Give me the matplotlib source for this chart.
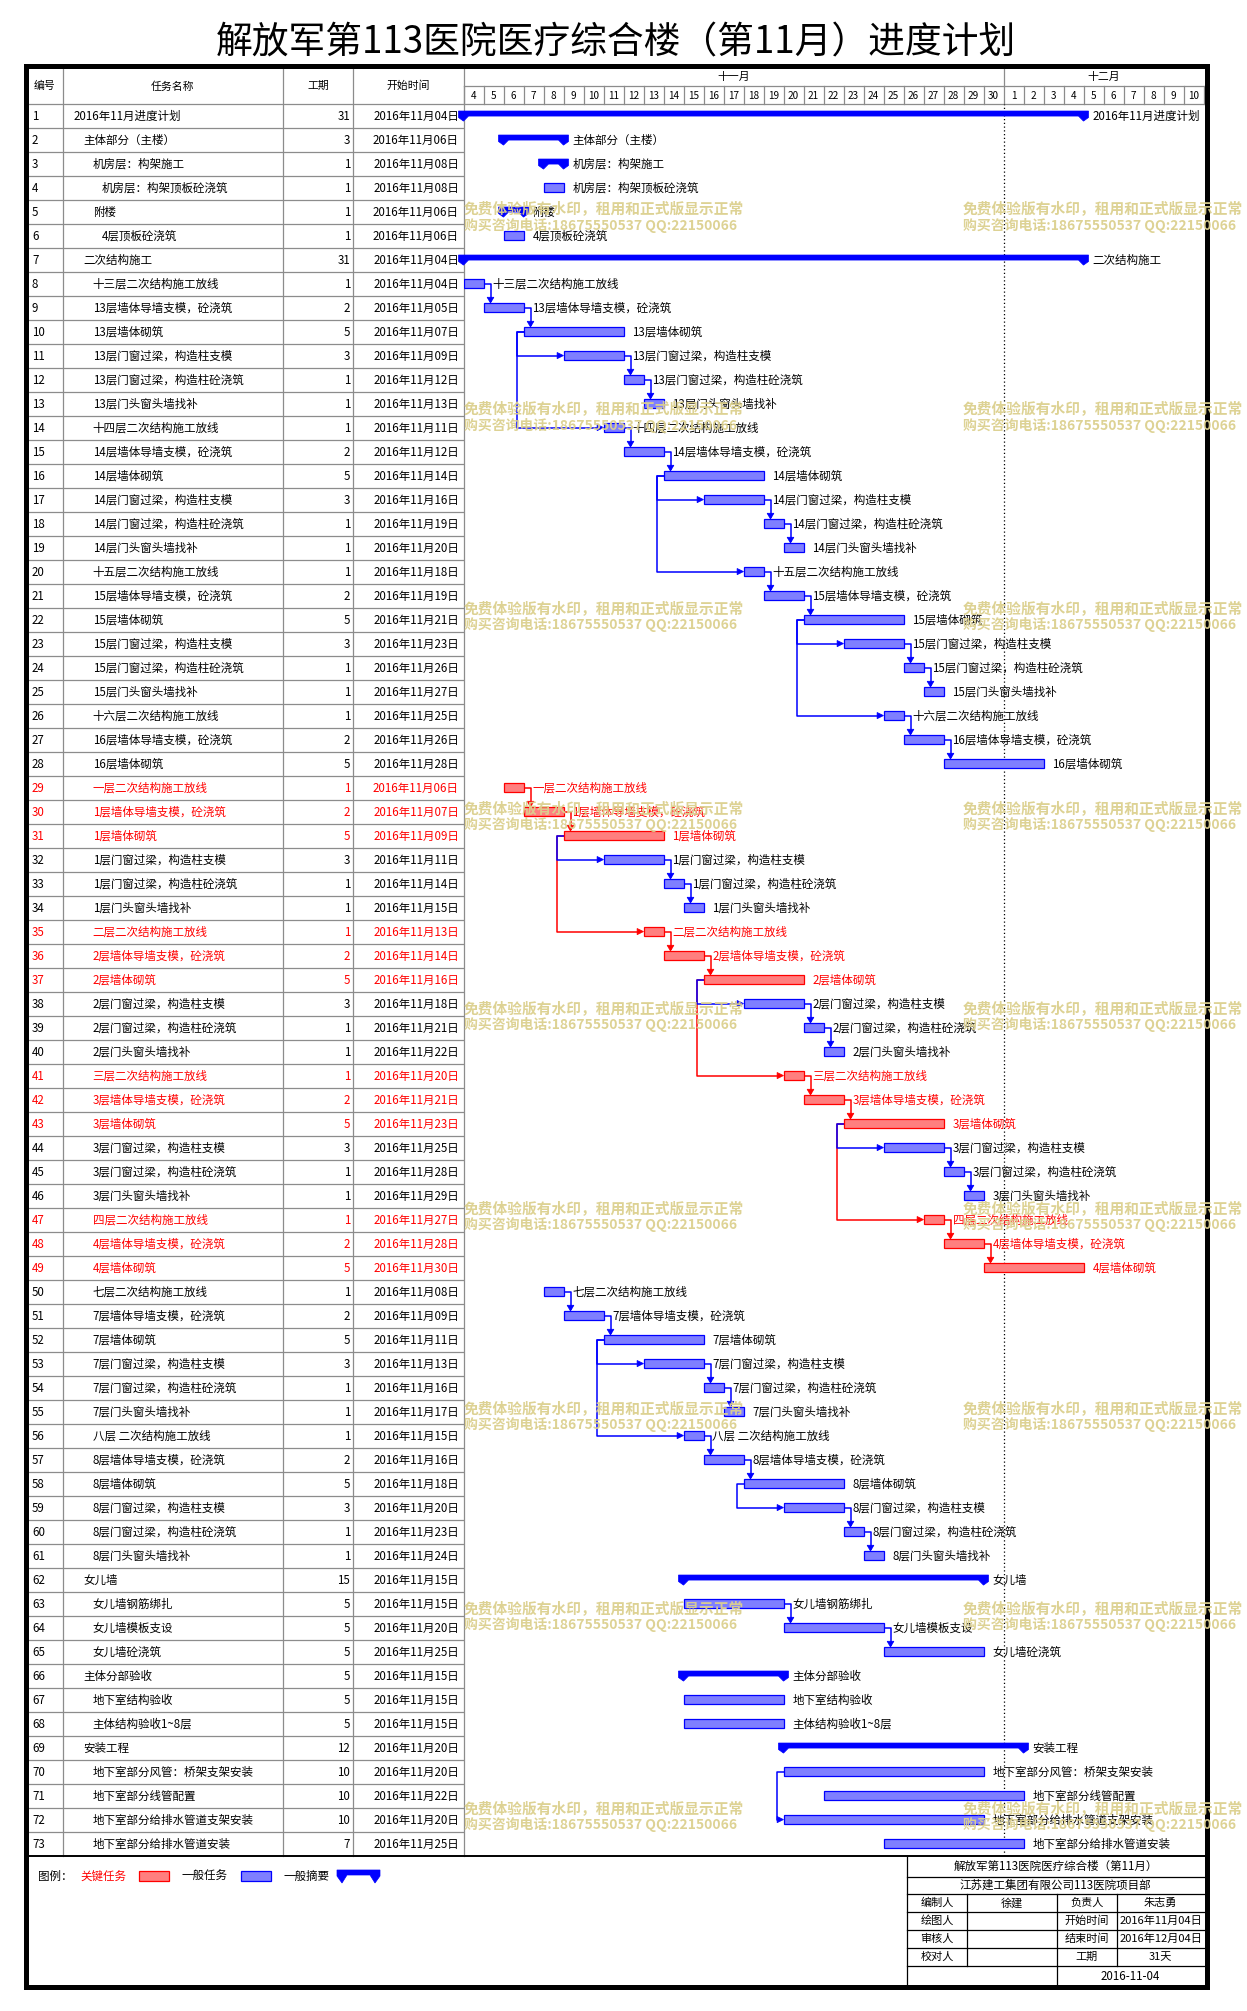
import matplotlib
matplotlib.use('Agg')
import matplotlib.pyplot as plt
from matplotlib.patches import Rectangle, Polygon
import numpy as np
import pandas as pd

plt.rcParams['font.family'] = ['Noto Sans CJK SC', 'DejaVu Sans']

# ---------------- data ----------------
title = "解放军第113医院医疗综合楼（第11月）进度计划"
col_headers = ["编号", "任务名称", "工期", "开始时间"]
months = ["十一月", "十二月"]
days_nov = [str(d) for d in range(4, 31)]
days_dec = [str(d) for d in range(1, 11)]
day_labels = days_nov + days_dec

task_names = [
    "2016年11月进度计划", "主体部分（主楼）", "机房层：构架施工", "机房层：构架顶板砼浇筑",
    "附楼", "4层顶板砼浇筑", "二次结构施工",
    "十三层二次结构施工放线", "13层墙体导墙支模，砼浇筑", "13层墙体砌筑",
    "13层门窗过梁，构造柱支模", "13层门窗过梁，构造柱砼浇筑", "13层门头窗头墙找补",
    "十四层二次结构施工放线", "14层墙体导墙支模，砼浇筑", "14层墙体砌筑",
    "14层门窗过梁，构造柱支模", "14层门窗过梁，构造柱砼浇筑", "14层门头窗头墙找补",
    "十五层二次结构施工放线", "15层墙体导墙支模，砼浇筑", "15层墙体砌筑",
    "15层门窗过梁，构造柱支模", "15层门窗过梁，构造柱砼浇筑", "15层门头窗头墙找补",
    "十六层二次结构施工放线", "16层墙体导墙支模，砼浇筑", "16层墙体砌筑",
    "一层二次结构施工放线", "1层墙体导墙支模，砼浇筑", "1层墙体砌筑",
    "1层门窗过梁，构造柱支模", "1层门窗过梁，构造柱砼浇筑", "1层门头窗头墙找补",
    "二层二次结构施工放线", "2层墙体导墙支模，砼浇筑", "2层墙体砌筑",
    "2层门窗过梁，构造柱支模", "2层门窗过梁，构造柱砼浇筑", "2层门头窗头墙找补",
    "三层二次结构施工放线", "3层墙体导墙支模，砼浇筑", "3层墙体砌筑",
    "3层门窗过梁，构造柱支模", "3层门窗过梁，构造柱砼浇筑", "3层门头窗头墙找补",
    "四层二次结构施工放线", "4层墙体导墙支模，砼浇筑", "4层墙体砌筑",
    "七层二次结构施工放线", "7层墙体导墙支模，砼浇筑", "7层墙体砌筑",
    "7层门窗过梁，构造柱支模", "7层门窗过梁，构造柱砼浇筑", "7层门头窗头墙找补",
    "八层 二次结构施工放线", "8层墙体导墙支模，砼浇筑", "8层墙体砌筑",
    "8层门窗过梁，构造柱支模", "8层门窗过梁，构造柱砼浇筑", "8层门头窗头墙找补",
    "女儿墙", "女儿墙钢筋绑扎", "女儿墙模板支设", "女儿墙砼浇筑",
    "主体分部验收", "地下室结构验收", "主体结构验收1~8层",
    "安装工程", "地下室部分风管：桥架支架安装", "地下室部分线管配置",
    "地下室部分给排水管道支架安装", "地下室部分给排水管道安装",
]
durations = [31, 3, 1, 1, 1, 1, 31,
             1, 2, 5, 3, 1, 1,
             1, 2, 5, 3, 1, 1,
             1, 2, 5, 3, 1, 1,
             1, 2, 5,
             1, 2, 5, 3, 1, 1,
             1, 2, 5, 3, 1, 1,
             1, 2, 5, 3, 1, 1,
             1, 2, 5,
             1, 2, 5, 3, 1, 1,
             1, 2, 5, 3, 1, 1,
             15, 5, 5, 5,
             5, 5, 5,
             12, 10, 10, 10, 7]
start_days = ["04", "06", "08", "08", "06", "06", "04",
              "04", "05", "07", "09", "12", "13",
              "11", "12", "14", "16", "19", "20",
              "18", "19", "21", "23", "26", "27",
              "25", "26", "28",
              "06", "07", "09", "11", "14", "15",
              "13", "14", "16", "18", "21", "22",
              "20", "21", "23", "25", "28", "29",
              "27", "28", "30",
              "08", "09", "11", "13", "16", "17",
              "15", "16", "18", "20", "23", "24",
              "15", "15", "20", "25",
              "15", "15", "15",
              "20", "20", "22", "20", "25"]
start_dates = ["2016年11月" + d + "日" for d in start_days]
levels = [0, 1, 2, 3, 2, 3, 1] + [2] * 54 + [1, 2, 2, 2, 1, 2, 2, 1, 2, 2, 2, 2]
summary_rows = [1, 2, 3, 5, 7, 62, 66, 69]
critical_rows = [29, 30, 31, 35, 36, 37, 41, 42, 43, 47, 48, 49]

fs_links = [(8, 9), (9, 10), (11, 12), (12, 13),
            (14, 15), (15, 16), (17, 18), (18, 19),
            (20, 21), (21, 22), (23, 24), (24, 25),
            (26, 27), (27, 28),
            (29, 30), (30, 31), (32, 33), (33, 34),
            (35, 36), (36, 37), (38, 39), (39, 40),
            (41, 42), (42, 43), (44, 45), (45, 46),
            (47, 48), (48, 49),
            (50, 51), (51, 52), (53, 54), (54, 55),
            (56, 57), (57, 58), (59, 60), (60, 61),
            (63, 64), (64, 65)]
ss_links = [(10, 11), (10, 14), (16, 17), (16, 20), (22, 23), (22, 26),
            (31, 32), (31, 35), (37, 38), (37, 41), (43, 44), (43, 47),
            (52, 53), (52, 56), (58, 59), (70, 72)]

legend_items = ["关键任务", "一般任务", "一般摘要"]
info_title = "解放军第113医院医疗综合楼（第11月）"
info_company = "江苏建工集团有限公司113医院项目部"
info_rows = [["编制人", "徐建", "负责人", "朱志勇"],
             ["绘图人", "", "开始时间", "2016年11月04日"],
             ["审核人", "", "结束时间", "2016年12月04日"],
             ["校对人", "", "工期", "31天"]]
info_date = "2016-11-04"
watermark = ["免费体验版有水印，租用和正式版显示正常", "购买咨询电话:18675550537 QQ:22150066"]

assert len(task_names) == len(durations) == len(start_dates) == len(levels) == 73

# ---------------- layout ----------------
W, H = 1247, 2011
fig = plt.figure(figsize=(W / 100, H / 100), dpi=100)

def px_axes(x0, y0, x1, y1, z=0):
    ax = fig.add_axes([x0 / W, 1 - y1 / H, (x1 - x0) / W, (y1 - y0) / H], zorder=z)
    ax.set_axis_off()
    return ax

BLUE = '#0000ff'
RED = '#ff0000'
BFACE = '#7f7fff'
RFACE = '#ff7f7f'
GRID = '#8c8c8c'
FS = 8.3

n = len(task_names)
X_L, X_C1, X_C2, X_C3, X_G0 = 27, 62.7, 283, 353, 463.5
DAYW = 20.0
ndays = len(day_labels)
X_G1 = X_G0 + ndays * DAYW
Y_HT, Y_HM, Y_H = 68, 86, 104.3
ROWH = 24.0
Y_B = Y_H + n * ROWH

bg = px_axes(0, 0, W, H, 0)
bg.set_xlim(0, W); bg.set_ylim(H, 0)

# title
bg.text((218 + 1013) / 2, 43, title, fontsize=26.5, ha='center', va='center', fontweight='medium')

# table header
for x, lab in zip([(X_L + X_C1) / 2, (X_C1 + X_C2) / 2, (X_C2 + X_C3) / 2, (X_C3 + X_G0) / 2], col_headers):
    bg.text(x, (Y_HT + Y_H) / 2, lab, fontsize=FS - 0.5, ha='center', va='center')
X_MON = X_G0 + len(days_nov) * DAYW
bg.text((X_G0 + X_MON) / 2, (Y_HT + Y_HM) / 2, months[0], fontsize=FS - 0.5, ha='center', va='center')
bg.text((X_MON + X_G1) / 2, (Y_HT + Y_HM) / 2, months[1], fontsize=FS - 0.5, ha='center', va='center')
for k, lab in enumerate(day_labels):
    bg.text(X_G0 + (k + 0.5) * DAYW, (Y_HM + Y_H) / 2 + 0.5, lab, fontsize=7.2, ha='center', va='center')

# grid lines
for x in [X_C1, X_C2, X_C3, X_G0]:
    bg.plot([x, x], [Y_HT, Y_B], color=GRID, lw=0.9)
bg.plot([X_L, 1205], [Y_H, Y_H], color=GRID, lw=0.9)
bg.plot([X_G0, X_G1], [Y_HM, Y_HM], color=GRID, lw=0.9)
for k in range(ndays + 1):
    bg.plot([X_G0 + k * DAYW] * 2, [Y_HM, Y_H], color=GRID, lw=0.9)
bg.plot([X_MON, X_MON], [Y_HT, Y_HM], color=GRID, lw=0.9)
bg.plot([X_L, 1205], [Y_B, Y_B], color='black', lw=1.4)

# table axes
tx = px_axes(X_L, Y_H, X_G0, Y_B, 1)
tx.set_xlim(X_L, X_G0); tx.set_ylim(n, 0)
tx.hlines(np.arange(1, n), X_L, X_G0, color=GRID, lw=0.9)
for i in range(n):
    rid = i + 1
    c = RED if rid in critical_rows else 'black'
    y = i + 0.5
    tx.text(32, y, str(rid), fontsize=FS, color=c, ha='left', va='center')
    tx.text(74 + 9.3 * levels[i], y, task_names[i], fontsize=FS, color=c, ha='left', va='center')
    tx.text(350, y, str(durations[i]), fontsize=FS, color=c, ha='right', va='center')
    tx.text(459, y, start_dates[i], fontsize=FS, color=c, ha='right', va='center')

# gantt axes
gx = px_axes(X_G0, Y_H, X_G1, Y_B, 2)
gx.set_xlim(0, ndays); gx.set_ylim(n, 0)
base = pd.Timestamp('2016-11-04')
starts = [(pd.to_datetime(s, format='%Y年%m月%d日') - base).days for s in start_dates]
ends = [s + d for s, d in zip(starts, durations)]

gx.axvline(len(days_nov), color='black', lw=0.9, ls=(0, (1, 2)), zorder=1)

BH = 0.38
YOFF = -0.03
for i in range(n):
    rid = i + 1
    s, e = starts[i], ends[i]
    crit = rid in critical_rows
    lc = RED if crit else 'black'
    if rid in summary_rows:
        top, bot, tip = i + 0.28, i + 0.49, i + 0.70
        hw = 0.25
        x0, x1 = s - hw, e + hw
        poly = [(x0, top), (x1, top), (x1, bot + 0.06), (e, tip), (e - hw, bot),
                (s + hw, bot), (s, tip), (x0, bot + 0.06)]
        gx.add_patch(Polygon(poly, closed=True, facecolor=BLUE, edgecolor=BLUE, lw=0.5,
                             zorder=4, clip_on=False))
        gx.text(x1 + 0.2, i + 0.5, task_names[i], fontsize=FS, color=lc, ha='left', va='center',
                zorder=6, clip_on=False)
    else:
        fc, ec = (RFACE, RED) if crit else (BFACE, BLUE)
        gx.add_patch(Rectangle((s, i + 0.5 + YOFF - BH / 2), e - s, BH, facecolor=fc,
                               edgecolor=ec, lw=0.9, zorder=4))
        gx.text(e + 0.45, i + 0.5, task_names[i], fontsize=FS, color=lc, ha='left', va='center',
                zorder=6, clip_on=False)

def arrow_down(x, ytip, c):
    gx.add_patch(Polygon([(x - 0.17, ytip - 0.24), (x + 0.17, ytip - 0.24), (x, ytip)],
                         closed=True, facecolor=c, edgecolor=c, lw=0.5, zorder=5))

def arrow_right(xtip, y, c):
    gx.add_patch(Polygon([(xtip - 0.32, y - 0.13), (xtip - 0.32, y + 0.13), (xtip, y)],
                         closed=True, facecolor=c, edgecolor=c, lw=0.5, zorder=5))

def link_color(a, b):
    return RED if (a in critical_rows and b in critical_rows) else BLUE

STUB = 0.35
for crit_pass in (True, False):
    for a, b in fs_links:
        c = link_color(a, b)
        if (c == RED) != crit_pass:
            continue
        ia, ib = a - 1, b - 1
        xa = ends[ia]
        ya = ia + 0.5 + YOFF
        ytop = ib + 0.5 + YOFF - BH / 2
        gx.plot([xa, xa + STUB, xa + STUB], [ya, ya, ytop - 0.1], color=c, lw=1.1, zorder=3)
        arrow_down(xa + STUB, ytop, c)
    for a, b in ss_links:
        c = link_color(a, b)
        if (c == RED) != crit_pass:
            continue
        ia, ib = a - 1, b - 1
        xa = starts[ia]
        xb = starts[ib]
        ya = ia + 0.5 + YOFF
        yb = ib + 0.5 + YOFF
        gx.plot([xa, xa - STUB, xa - STUB, xb - 0.2], [ya, ya, yb, yb], color=c, lw=1.1, zorder=3)
        arrow_right(xb, yb, c)

# legend
LY = 1876
bg.text(38, LY, "图例：", fontsize=FS, ha='left', va='center')
bg.text(80, LY, legend_items[0], fontsize=FS, color=RED, ha='left', va='center')
bg.add_patch(Rectangle((139, 1871), 30, 10, facecolor=RFACE, edgecolor=RED, lw=0.9))
bg.text(181, LY, legend_items[1], fontsize=FS, ha='left', va='center')
bg.add_patch(Rectangle((241, 1871), 30, 10, facecolor=BFACE, edgecolor=BLUE, lw=0.9))
bg.text(283, LY, legend_items[2], fontsize=FS, ha='left', va='center')
sx0, sx1 = 337, 380
bg.add_patch(Polygon([(sx0, 1870), (sx1, 1870), (sx1, 1876), (sx1 - 5, 1883), (sx1 - 10, 1875),
                      (sx0 + 10, 1875), (sx0 + 5, 1883), (sx0, 1876)],
                     closed=True, facecolor=BLUE, edgecolor=BLUE, lw=0.5))

# info box
IX0, IX1 = 907, 1204
ycuts = [Y_B, 1877, 1894, 1912, 1930, 1948, 1966, 1986]
xcuts = [IX0, 967, 1057, 1117, IX1]
bg.plot([IX0, IX0], [Y_B, 1986], color='black', lw=0.9)
for y in ycuts[1:-1]:
    bg.plot([IX0, IX1], [y, y], color='black', lw=0.9)
for x in xcuts[1:-1]:
    bg.plot([x, x], [ycuts[2], ycuts[6]], color='black', lw=0.9)
bg.plot([1057, 1057], [ycuts[6], 1986], color='black', lw=0.9)
bg.text((IX0 + IX1) / 2, (ycuts[0] + ycuts[1]) / 2, info_title, fontsize=FS, ha='center', va='center')
bg.text((IX0 + IX1) / 2, (ycuts[1] + ycuts[2]) / 2, info_company, fontsize=FS, ha='center', va='center')
for r, row in enumerate(info_rows):
    yc = (ycuts[2 + r] + ycuts[3 + r]) / 2
    for c, val in enumerate(row):
        if val:
            bg.text((xcuts[c] + xcuts[c + 1]) / 2, yc, val, fontsize=FS - 0.3, ha='center', va='center')
bg.text((1057 + IX1) / 2, (ycuts[6] + 1986) / 2, info_date, fontsize=FS, ha='center', va='center')

# overlay: watermark and border
ov = px_axes(0, 0, W, H, 5)
ov.set_xlim(0, W); ov.set_ylim(H, 0)
for k in range(9):
    for wx in (464, 963):
        ov.text(wx, 209 + 200 * k, watermark[0], fontsize=10.6, fontweight='bold', color='#dcd08e',
                ha='left', va='center', alpha=0.95)
        ov.text(wx, 225 + 200 * k, watermark[1], fontsize=10.0, fontweight='bold', color='#dcd08e',
                ha='left', va='center', alpha=0.95)
ov.add_patch(Rectangle((25.5, 65.5), 1207 - 25.5, 1986.5 - 65.5, fill=False, edgecolor='black', lw=3.6))

fig.savefig('out.png', dpi=100)
